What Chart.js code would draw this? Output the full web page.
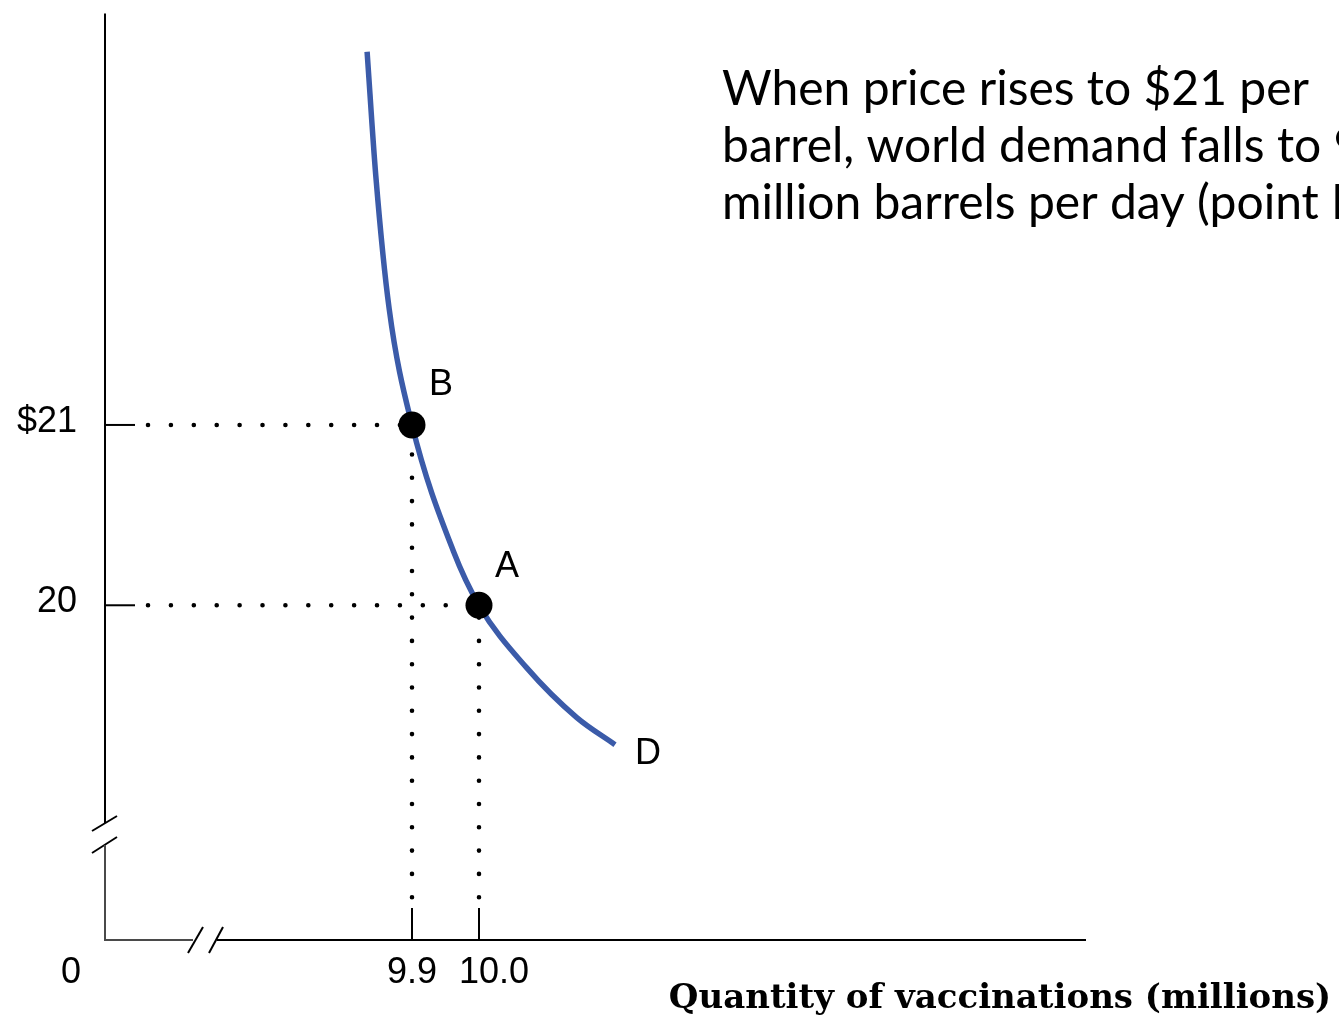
<!DOCTYPE html>
<html>
<head>
<meta charset="utf-8">
<script src="https://cdn.jsdelivr.net/npm/chart.js@4.4.1/dist/chart.umd.min.js"></script>
<style>
  html, body { margin: 0; padding: 0; background: #fff; }
  #wrap { width: 1339px; height: 1018px; position: relative; }
</style>
</head>
<body>
<div id="wrap"><canvas id="demandChart"></canvas></div>
<script>
// demand curve (quantity in millions, price in $)
const demandQuantity = [9.833, 9.846, 9.866, 9.9, 9.962, 10.0, 10.071, 10.146, 10.203];
const demandPrice = [23.070, 22.381, 21.643, 21, 20.298, 20, 19.654, 19.377, 19.227];

// the two marked points
const pointNames = ['B', 'A'];
const pointQuantity = [9.9, 10.0];
const pointPrice = [21, 20];

// ticks
const quantityTicks = [9.9, 10.0];
const quantityTickLabels = ['9.9', '10.0'];
const priceTicks = [21, 20];
const priceTickLabels = ['$21', '20'];
const originLabel = '0';
const curveName = 'D';

// axis ranges (the axes are broken near the origin)
const quantityMin = 9.4418, quantityMax = 10.906;
const priceMin = 18.1437, priceMax = 23.2818;
// where the dotted guide lines start
const guideQuantity = 9.506;
const guidePrice = 18.381;

const xTitle = 'Quantity of vaccinations (millions)';
const noteLines = ['When price rises to $21 per', 'barrel, world demand falls to 9.9', 'million barrels per day (point B).'];

const demandData = demandQuantity.map((q, i) => ({x: q, y: demandPrice[i]}));
const pointData = pointQuantity.map((q, i) => ({x: q, y: pointPrice[i]}));

function guide(from, to, gap) {
    return {
        data: [from, to],
        showLine: true,
        borderColor: '#000',
        borderWidth: 4.6,
        borderDash: [0, gap],
        borderCapStyle: 'round',
        pointRadius: 0,
        fill: false
    };
}

const guides = [];
pointData.forEach(function (p) {
    guides.push(guide({x: guideQuantity, y: p.y}, p, 22.9));   // horizontal, from the price axis
    guides.push(guide({x: p.x, y: guidePrice}, p, 23.3));      // vertical, from the quantity axis
});

const axesPlugin = {
    id: 'brokenAxes',
    afterDraw(chart) {
        const ctx = chart.ctx;
        const a = chart.chartArea;
        const xs = chart.scales.x, ys = chart.scales.y;

        function seg(x1, y1, x2, y2) {
            ctx.beginPath();
            ctx.moveTo(x1, y1);
            ctx.lineTo(x2, y2);
            ctx.stroke();
        }

        ctx.save();
        // axes with the break marks
        ctx.lineCap = 'butt';
        ctx.strokeStyle = '#000';
        ctx.lineWidth = 2;
        seg(a.left, a.top, a.left, a.bottom - 117);
        seg(a.left + 112, a.bottom, a.right, a.bottom);
        seg(a.left - 13, a.bottom - 109, a.left + 12, a.bottom - 124);
        seg(a.left - 13, a.bottom - 87, a.left + 12, a.bottom - 103);
        seg(a.left + 83, a.bottom + 13, a.left + 98, a.bottom - 13);
        seg(a.left + 104, a.bottom + 13, a.left + 118, a.bottom - 13);
        ctx.strokeStyle = '#4a4a4a';
        seg(a.left, a.bottom - 95, a.left, a.bottom);
        seg(a.left - 1, a.bottom, a.left + 88, a.bottom);

        // ticks and tick labels
        ctx.strokeStyle = '#000';
        ctx.fillStyle = '#000';
        ctx.font = '36px "Liberation Sans", Arial, sans-serif';
        ctx.textBaseline = 'middle';
        ctx.textAlign = 'right';
        priceTicks.forEach(function (v, i) {
            const py = ys.getPixelForValue(v);
            seg(a.left, py, a.left + 30, py);
            ctx.fillText(priceTickLabels[i], a.left - 28, py - 3);
        });
        ctx.textAlign = 'center';
        quantityTicks.forEach(function (v, i) {
            const px = xs.getPixelForValue(v);
            seg(px, a.bottom, px, a.bottom - 32);
            ctx.fillText(quantityTickLabels[i], px + (i === 1 ? 15 : 0), a.bottom + 33);
        });
        ctx.fillText(originLabel, a.left - 34, a.bottom + 33);

        // point and curve names
        ctx.fillText(pointNames[0], xs.getPixelForValue(pointQuantity[0]) + 29, ys.getPixelForValue(pointPrice[0]) - 40);
        ctx.fillText(pointNames[1], xs.getPixelForValue(pointQuantity[1]) + 28, ys.getPixelForValue(pointPrice[1]) - 38);
        const last = demandData[demandData.length - 1];
        ctx.fillText(curveName, xs.getPixelForValue(last.x) + 33, ys.getPixelForValue(last.y) + 9);

        // axis title
        ctx.font = 'bold 34px "DejaVu Serif", serif';
        ctx.fillText(xTitle, 1000, a.bottom + 59);

        // note
        ctx.textAlign = 'left';
        ctx.font = '48px Lato, sans-serif';
        noteLines.forEach(function (t, i) {
            ctx.fillText(t, 722, 90 + i * 57);
        });
        ctx.restore();
    }
};

const ctx = document.getElementById('demandChart').getContext('2d');
const demandChart = new Chart(ctx, {
    type: 'scatter',
    data: {
        datasets: [
            {   // A and B markers, first so they sit on top
                data: pointData,
                pointRadius: 13.5,
                pointBackgroundColor: '#000',
                pointBorderWidth: 0,
                showLine: false
            },
            {   // demand curve D
                data: demandData,
                showLine: true,
                borderColor: '#3b5ba9',
                borderWidth: 5.5,
                cubicInterpolationMode: 'monotone',
                pointRadius: 0,
                fill: false
            }
        ].concat(guides)
    },
    options: {
        responsive: true,
        maintainAspectRatio: false,
        devicePixelRatio: 1,
        animation: false,
        layout: {padding: {left: 105, right: 253, top: 10, bottom: 78}},
        plugins: {legend: {display: false}, tooltip: {enabled: false}},
        scales: {
            x: {type: 'linear', min: quantityMin, max: quantityMax, display: false},
            y: {type: 'linear', min: priceMin, max: priceMax, display: false}
        }
    },
    plugins: [axesPlugin]
});
</script>
</body>
</html>
